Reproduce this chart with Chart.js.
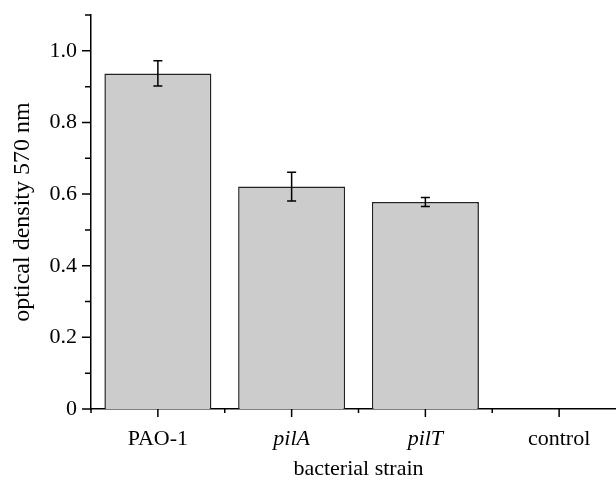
<!DOCTYPE html>
<html>
<head>
<meta charset="utf-8">
<script src="https://cdn.jsdelivr.net/npm/chart.js@4/dist/chart.umd.min.js"></script>
<style>
  html, body { margin: 0; padding: 0; background: #fff; overflow: hidden; }
  #wrap { width: 616px; height: 483px; overflow: hidden; position: relative; }
  canvas { display: block; }
</style>
</head>
<body>
<div id="wrap"><canvas id="c" width="627" height="483"></canvas></div>
<script>
// ---- data ----
const categories = ['PAO-1', 'pilA', 'pilT', 'control'];
const italicLabels = [false, true, true, false];
const values = [0.937, 0.621, 0.578, 0];
const errors = [0.035, 0.040, 0.0125, 0];
const yMin = 0;
const yMax = 1.1;
const yStep = 0.1;
const yLabelEvery = 0.2;
const xTitle = 'bacterial strain';
const yTitle = 'optical density 570 nm';

const FONT = "'Liberation Serif', 'Times New Roman', serif";

const errorBarPlugin = {
  id: 'errorBars',
  afterDatasetsDraw(chart) {
    const ctx = chart.ctx;
    const meta = chart.getDatasetMeta(0);
    const ys = chart.scales.y;
    ctx.save();
    ctx.strokeStyle = '#000';
    ctx.lineWidth = 1.5;
    meta.data.forEach((bar, i) => {
      const e = errors[i];
      if (!e) return;
      const x = bar.x;
      const yT = ys.getPixelForValue(values[i] + e);
      const yB = ys.getPixelForValue(values[i] - e);
      const cap = 4.5;
      ctx.beginPath();
      ctx.moveTo(x, yT); ctx.lineTo(x, yB);
      ctx.moveTo(x - cap, yT); ctx.lineTo(x + cap, yT);
      ctx.moveTo(x - cap, yB); ctx.lineTo(x + cap, yB);
      ctx.stroke();
    });
    ctx.restore();
  }
};

const tickMarksPlugin = {
  id: 'tickMarks',
  afterDraw(chart) {
    const ctx = chart.ctx;
    const xs = chart.scales.x, ys = chart.scales.y;
    const area = chart.chartArea;
    ctx.save();
    ctx.strokeStyle = '#000';
    ctx.lineWidth = 1.5;
    ctx.beginPath();
    ys.ticks.forEach(t => {
      const y = ys.getPixelForValue(t.value);
      const major = Math.abs(t.value / yLabelEvery - Math.round(t.value / yLabelEvery)) < 1e-6;
      const len = major ? 9 : 6;
      ctx.moveTo(area.left - len, y); ctx.lineTo(area.left, y);
    });
    for (let i = 0; i < categories.length; i++) {
      const x = xs.getPixelForValue(i);
      ctx.moveTo(x, area.bottom); ctx.lineTo(x, area.bottom + 8);
    }
    for (let i = 0; i <= categories.length; i++) {
      const x = xs.getPixelForValue(i - 0.5);
      ctx.moveTo(x, area.bottom); ctx.lineTo(x, area.bottom + 4);
    }
    ctx.stroke();
    ctx.restore();
  }
};

new Chart(document.getElementById('c'), {
  type: 'bar',
  data: {
    labels: categories,
    datasets: [{
      data: values,
      backgroundColor: '#cccccc',
      borderColor: '#222222',
      borderWidth: 1.5,
      barPercentage: 0.8,
      categoryPercentage: 1.0
    }]
  },
  options: {
    responsive: false,
    animation: false,
    layout: { padding: { top: 15, right: 1, left: 0, bottom: 0 } },
    plugins: { legend: { display: false }, tooltip: { enabled: false } },
    scales: {
      x: {
        grid: { display: false, drawTicks: false },
        border: { display: true, color: '#000', width: 1.5 },
        ticks: {
          color: '#000',
          padding: 17,
          maxRotation: 0,
          font: (c) => ({ family: FONT, size: 22, style: italicLabels[c.index] ? 'italic' : 'normal' })
        },
        title: {
          display: true, text: xTitle, color: '#000',
          font: { family: FONT, size: 22 },
          padding: { top: 0, bottom: 1 }
        },
        afterFit(s) { s.height = 74; }
      },
      y: {
        min: yMin, max: yMax,
        grid: { display: false, drawTicks: false },
        border: { display: true, color: '#000', width: 1.5 },
        ticks: {
          stepSize: yStep,
          color: '#000',
          padding: 14,
          font: { family: FONT, size: 22 },
          callback: (v) => {
            const r = v / yLabelEvery;
            if (Math.abs(r - Math.round(r)) > 1e-6) return '';
            return v === 0 ? '0' : v.toFixed(1);
          }
        },
        title: {
          display: true, text: yTitle, color: '#000',
          font: { family: FONT, size: 24 },
          padding: { top: 8, bottom: 0 }
        },
        afterFit(s) { s.width = 91; s.paddingTop = 0; s.paddingBottom = 0; }
      }
    }
  },
  plugins: [errorBarPlugin, tickMarksPlugin]
});
</script>
</body>
</html>
